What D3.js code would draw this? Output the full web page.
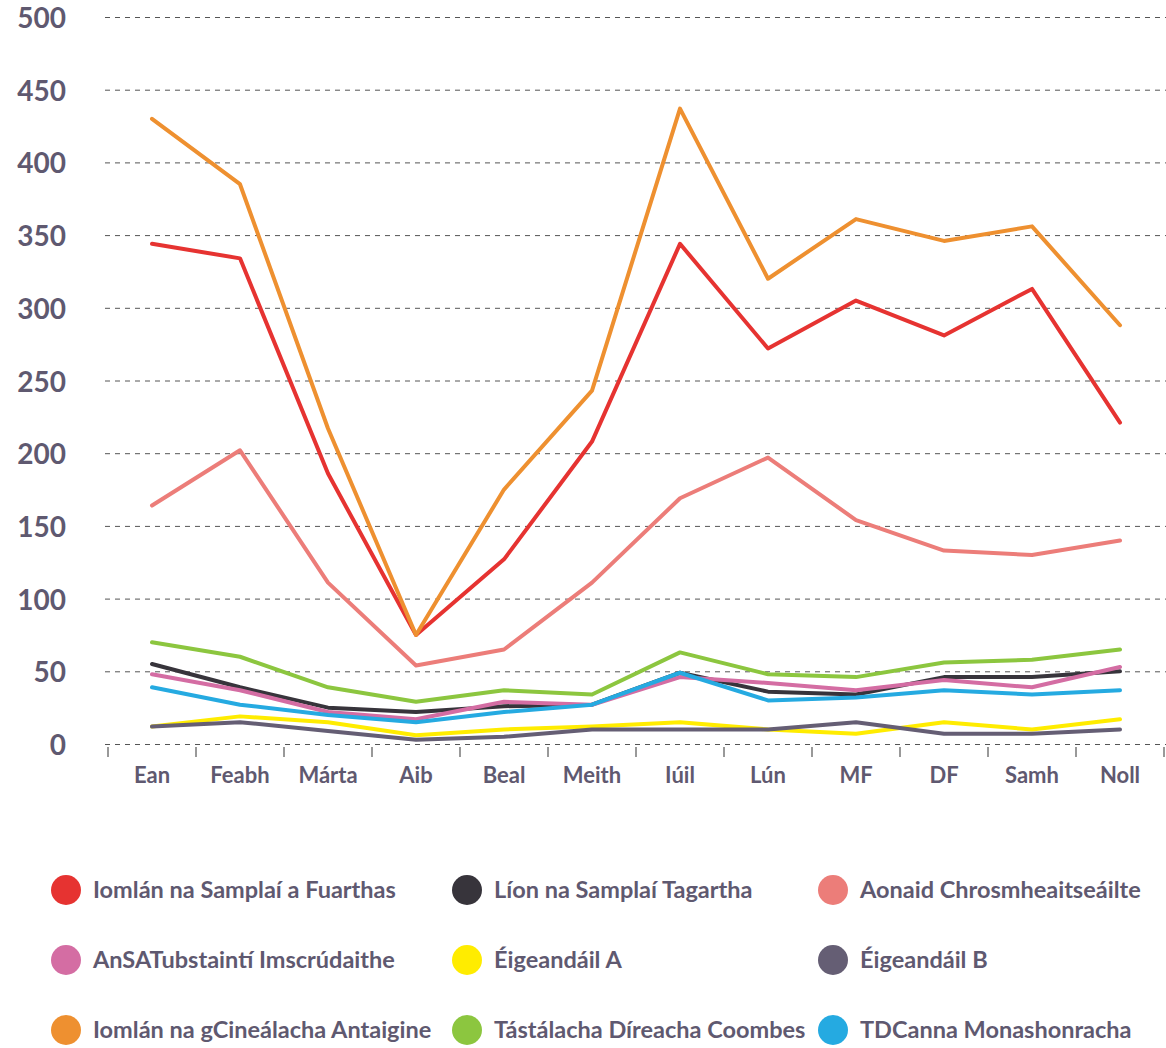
<!DOCTYPE html>
<html>
<head>
<meta charset="utf-8">
<script src="https://cdn.jsdelivr.net/npm/d3@7"></script>
<style>
	body { margin: 0; background: #fff; }
	svg { display: block; font-family: Lato, "Open Sans", sans-serif; }
	.grid line { stroke: #555; stroke-width: 1; stroke-dasharray: 5 5; }
	.yLabel { fill: #5f5970; font-size: 28px; font-weight: 700; }
	.xLabel { fill: #5f5970; font-size: 22px; font-weight: 700; }
	.legendText { fill: #5f5970; font-size: 23.5px; font-weight: 700; }
</style>
</head>
<body>
<svg id="myGraph" width="1166" height="1048"></svg>
<script>

// 데이터
var months = ["Ean", "Feabh", "Márta", "Aib", "Beal", "Meith", "Iúil", "Lún", "MF", "DF", "Samh", "Noll"]
var yTicks = [0, 50, 100, 150, 200, 250, 300, 350, 400, 450, 500]

var seriesNames = [
	"Iomlán na Samplaí a Fuarthas", "Líon na Samplaí Tagartha", "Aonaid Chrosmheaitseáilte",
	"AnSATubstaintí Imscrúdaithe", "Éigeandáil A", "Éigeandáil B",
	"Iomlán na gCineálacha Antaigine", "Tástálacha Díreacha Coombes", "TDCanna Monashonracha"
]
var seriesColors = ["#e63331", "#37343b", "#ec7d79", "#d46da3", "#ffec00", "#655e74", "#ee9030", "#8cc63f", "#25aae1"]

var samplesReceived = [344, 334, 186, 75, 127, 208, 344, 272, 305, 281, 313, 221]
var referenceSamples = [55, 39, 25, 22, 26, 27, 49, 36, 34, 46, 46, 50]
var crossmatchedUnits = [164, 202, 111, 54, 65, 111, 169, 197, 154, 133, 130, 140]
var substancesInvestigated = [48, 37, 22, 17, 29, 27, 46, 42, 37, 44, 39, 53]
var emergencyA = [12, 19, 15, 6, 10, 12, 15, 10, 7, 15, 10, 17]
var emergencyB = [12, 15, 9, 3, 5, 10, 10, 10, 15, 7, 7, 10]
var antigenTypes = [430, 385, 217, 75, 175, 243, 437, 320, 361, 346, 356, 288]
var coombsTests = [70, 60, 39, 29, 37, 34, 63, 48, 46, 56, 58, 65]
var bloodGroups = [39, 27, 20, 15, 22, 27, 49, 30, 32, 37, 34, 37]

var seriesValues = [samplesReceived, referenceSamples, crossmatchedUnits, substancesInvestigated,
	emergencyA, emergencyB, antigenTypes, coombsTests, bloodGroups]

var svg = d3.select("#myGraph")

// 스케일
var xScale = d3.scaleBand()
	.domain(months)
	.range([108, 1164])

var yScale = d3.scaleLinear()
	.domain([0, 500])
	.range([744, 17])

// 점선 그리드
svg.append("g")
	.attr("class", "grid")
	.selectAll("line")
	.data(yTicks)
	.enter()
	.append("line")
	.attr("x1", 105)
	.attr("x2", 1166)
	.attr("y1", function(d) { return yScale(d) + 0.5 })
	.attr("y2", function(d) { return yScale(d) + 0.5 })

// y축 레이블
svg.append("g")
	.selectAll("text")
	.data(yTicks)
	.enter()
	.append("text")
	.attr("class", "yLabel")
	.attr("x", 66)
	.attr("y", function(d) { return yScale(d) + 1 })
	.attr("dy", "0.36em")
	.attr("text-anchor", "end")
	.text(function(d) { return d })

// x축 (눈금만)
var xAxis = d3.axisBottom(xScale)
	.tickSize(0)
	.tickFormat("")

var xAxisG = svg.append("g")
	.attr("transform", "translate(0, 747)")
	.call(xAxis)
xAxisG.select(".domain").remove()

// 구간 경계 눈금
var boundaries = months.map(function(m) { return xScale(m) }).concat([xScale.range()[1]])
svg.append("g")
	.selectAll("line")
	.data(boundaries)
	.enter()
	.append("line")
	.attr("x1", function(d) { return d })
	.attr("x2", function(d) { return d })
	.attr("y1", 747)
	.attr("y2", 757)
	.attr("stroke", "#555")
	.attr("stroke-width", 1.2)

// x축 레이블
svg.append("g")
	.selectAll("text")
	.data(months)
	.enter()
	.append("text")
	.attr("class", "xLabel")
	.attr("x", function(d) { return xScale(d) + xScale.bandwidth() / 2 })
	.attr("y", 783)
	.attr("text-anchor", "middle")
	.text(function(d) { return d })

// 선 그래프
var line = d3.line()
	.x(function(d, i) { return xScale(months[i]) + xScale.bandwidth() / 2 })
	.y(function(d) { return yScale(d) })

svg.append("g")
	.selectAll("path")
	.data(seriesValues)
	.enter()
	.append("path")
	.attr("d", function(d) { return line(d) })
	.attr("fill", "none")
	.attr("stroke", function(d, i) { return seriesColors[i] })
	.attr("stroke-width", 4)
	.attr("stroke-linejoin", "round")
	.attr("stroke-linecap", "round")

// 범례
var legendX = [66, 467, 833]
var legendY = [890, 960, 1030]

var legend = svg.append("g")
	.selectAll("g")
	.data(seriesNames)
	.enter()
	.append("g")
	.attr("transform", function(d, i) {
		return "translate(" + legendX[i % 3] + ", " + legendY[Math.floor(i / 3)] + ")"
	})

legend.append("circle")
	.attr("r", 15)
	.attr("fill", function(d, i) { return seriesColors[i] })

legend.append("text")
	.attr("class", "legendText")
	.attr("x", 27)
	.attr("dy", "0.36em")
	.text(function(d) { return d })

</script>
</body>
</html>
